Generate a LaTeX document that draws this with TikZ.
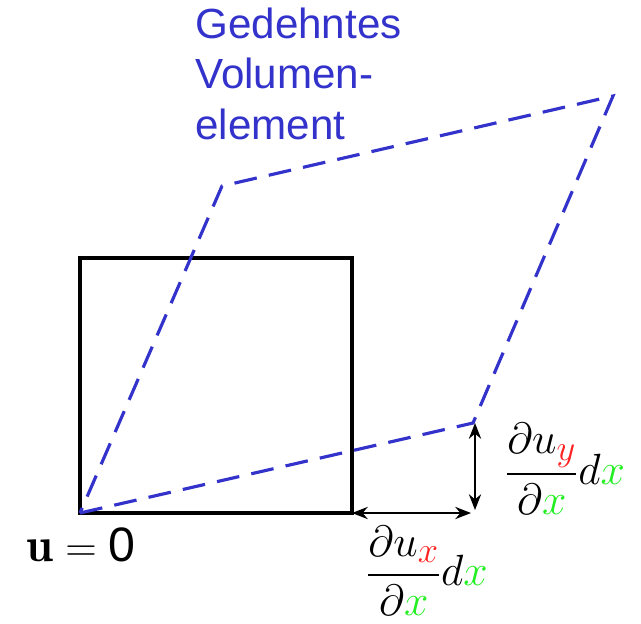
\documentclass[tikz,border=0pt]{standalone}
\usepackage{amsmath,amssymb,bm}
\usepackage{fontspec}
\setsansfont{Liberation Sans}
\usepackage{xcolor}
\usepackage{tikz}
\usetikzlibrary{arrows.meta, calc}
\definecolor{stretchblue}{HTML}{3333CC}
\definecolor{subred}{HTML}{FF2222}
\definecolor{dxgreen}{HTML}{22EE22}

\begin{document}
\begin{tikzpicture}[
    x=0.02cm, y=-0.02cm,
    cube/.style={draw=black, line width=1.8pt},
    stretched/.style={draw=stretchblue, line width=1.8pt, dash pattern=on 13pt off 7pt},
    dim/.style={{Stealth[length=9pt, width=7pt]}-{Stealth[length=9pt, width=7pt]}, line width=0.9pt},
    label/.style={font=\fontsize{27.5}{32}\selectfont, inner sep=0pt},
    caption/.style={font=\sffamily\fontsize{24}{28.5}\selectfont, text=stretchblue, align=left, inner sep=0pt}
]
\useasboundingbox (0,0) rectangle (641,623);
\coordinate (o) at (80,513);
\coordinate (sq) at (352,258);
\coordinate (sr) at (352,513);
\coordinate (a) at (473,423);
\coordinate (b) at (613,96);
\coordinate (c) at (222,186);
\coordinate (ad) at (a |- o);

\draw[cube] (o) rectangle (sq);
\draw[stretched] (o) -- (a) -- (b) -- (c) -- cycle;

\draw[dim] (sr) -- ($(ad)+(-2,0)$);
\draw[dim] ($(a)+(2,0)$) -- ($(ad)+(2,-3)$);

\node[label] (u0) at (81,545) {$\mathbf{u} = \text{\sffamily 0}$};
\node[label] (dux) at (427,571) {$\dfrac{\partial u_{\color{subred}x}}{\partial {\color{dxgreen}x}} d{\color{dxgreen}x}$};
\node[label] (duy) at (565,469) {$\dfrac{\partial u_{\color{subred}y}}{\partial {\color{dxgreen}x}} d{\color{dxgreen}x}$};
\node[caption, anchor=north west] (title) at (195,8) {Gedehntes\\Volumen-\\element};
\end{tikzpicture}
\end{document}
